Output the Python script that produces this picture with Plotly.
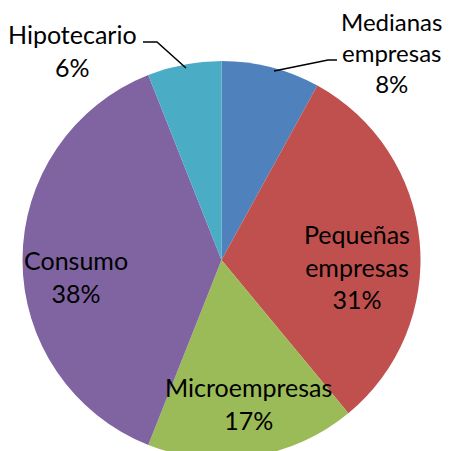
import plotly.graph_objects as go

# Data
categories = ["Medianas empresas", "Pequeñas empresas", "Microempresas", "Consumo", "Hipotecario"]
values = [8, 31, 17, 38, 6]
colors = ["#4F81BD", "#C0504D", "#9BBB59", "#8064A2", "#4BACC6"]
label_texts = ["Medianas<br>empresas<br>8%", "Pequeñas<br>empresas<br>31%",
               "Microempresas<br>17%", "Consumo<br>38%", "Hipotecario<br>6%"]

W, H = 452, 451
FONT = "Lato"

fig = go.Figure()
fig.add_trace(go.Pie(
    labels=categories,
    values=values,
    sort=False,
    direction="clockwise",
    rotation=0,
    marker=dict(colors=colors, line=dict(width=0)),
    textinfo="none",
    hoverinfo="label+percent",
    domain=dict(x=[14.5 / W, 412.5 / W], y=[0, 1 - 53 / H]),
    showlegend=False,
))

def px(x, y):
    return x / W, 1 - y / H

# label centers (pixel positions in figure coordinates)
label_pos = [(383, 45), (349, 258), (240, 395), (68, 268), (64, 42)]
label_sizes = [24, 25, 25, 25, 25]
annotations = []
for txt, (x, y), sz in zip(label_texts, label_pos, label_sizes):
    ax_, ay_ = px(x, y)
    annotations.append(dict(
        text=txt, x=ax_, y=ay_, xref="paper", yref="paper",
        xanchor="center", yanchor="middle", showarrow=False,
        font=dict(family=FONT, size=sz, color="#000000"), align="center",
    ))

def path(points):
    s = ""
    for i, (x, y) in enumerate(points):
        X, Y = px(x, y)
        s += ("M" if i == 0 else " L") + f" {X:.4f} {Y:.4f}"
    return s

shapes = [
    dict(type="path", xref="paper", yref="paper",
         path=path([(135, 34), (149, 34), (178, 60)]),
         line=dict(color="#000000", width=1.5)),
    dict(type="path", xref="paper", yref="paper",
         path=path([(266, 63), (320, 52), (329, 52)]),
         line=dict(color="#000000", width=1.5)),
]

fig.update_layout(
    width=W, height=H,
    margin=dict(l=0, r=0, t=0, b=0),
    paper_bgcolor="#FFFFFF",
    plot_bgcolor="#FFFFFF",
    annotations=annotations,
    shapes=shapes,
)

fig.write_html("out.html")
